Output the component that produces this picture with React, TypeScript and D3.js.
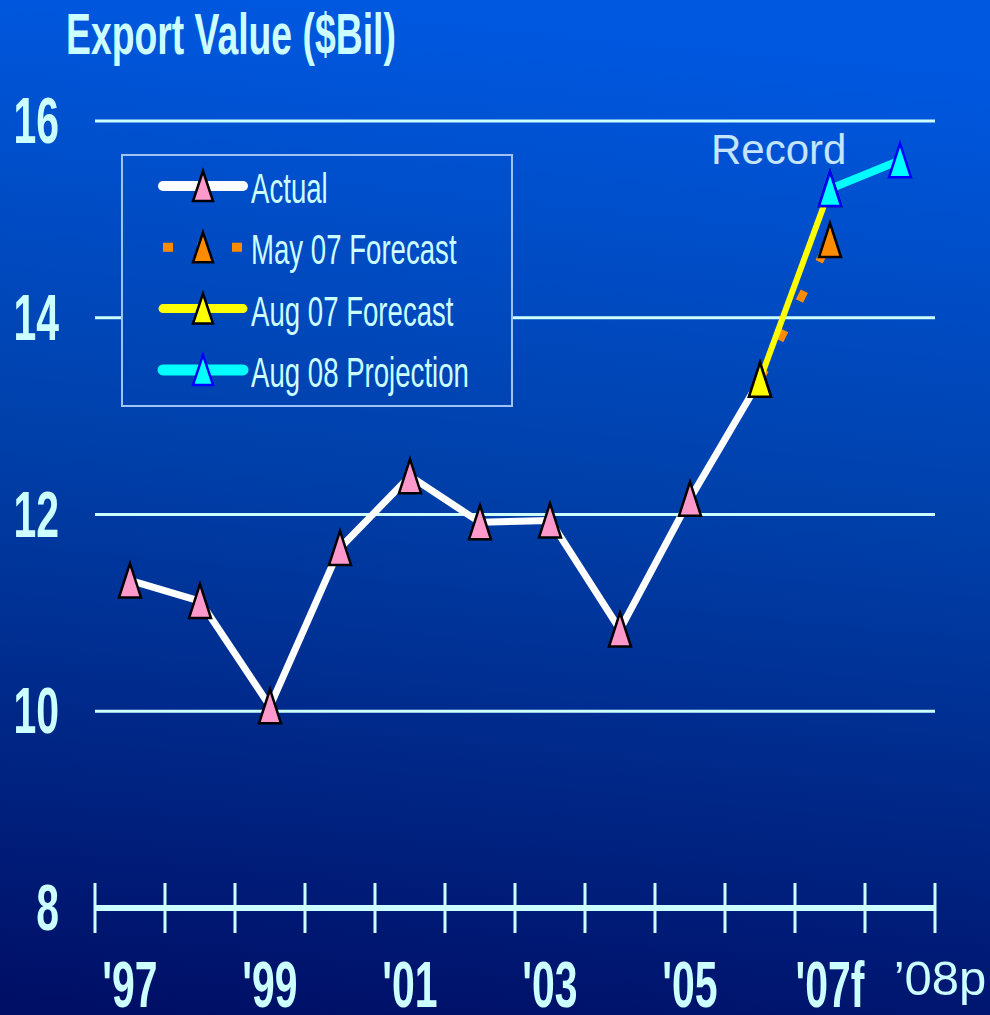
import React from 'react';
import * as d3 from 'd3';

// years on the x axis (one band each)
const years = ['97', '98', '99', '00', '01', '02', '03', '04', '05', '06', '07', '08'];
const xLabels = ["'97", '', "'99", '', "'01", '', "'03", '', "'05", '', "'07f", ''];
const yTicks = [8, 10, 12, 14, 16];

// Export value, $Bil
const actual: [string, number][] = [
    ['97', 11.33], ['98', 11.12], ['99', 10.05], ['00', 11.66], ['01', 12.39],
    ['02', 11.92], ['03', 11.94], ['04', 10.83], ['05', 12.16], ['06', 13.37],
];
const may07: [string, number][] = [['06', 13.37], ['07', 14.79]];
const aug07: [string, number][] = [['06', 13.37], ['07', 15.31]];
const aug08: [string, number][] = [['07', 15.31], ['08', 15.6]];

const legendLabels = ['Actual', 'May 07 Forecast', 'Aug 07 Forecast', 'Aug 08 Projection'];

const W = 990;
const H = 1015;
const TXT = '#ccffff';
const SQUEEZE = 0.63; // the original font is very condensed

const tri = (w: number, h: number) => `M0,${-h / 2}L${w / 2},${h / 2}L${-w / 2},${h / 2}Z`;

const App: React.FC = () => {
    const x = d3.scaleBand<string>().domain(years).range([95, 935]);
    const y = d3.scaleLinear().domain([8, 16]).range([908, 121]);
    const cx = (k: string) => (x(k) as number) + x.bandwidth() / 2;

    const line = d3
        .line<[string, number]>()
        .x((d) => cx(d[0]))
        .y((d) => y(d[1]));

    const series = [
        { data: actual, color: '#ffffff', width: 7, dash: undefined as string | undefined, fill: '#ff99cc', edge: '#000000' },
        { data: may07, color: '#ff8c00', width: 8, dash: '11 33', fill: '#ff8c00', edge: '#000000' },
        { data: aug07, color: '#ffff00', width: 6, dash: undefined, fill: '#ffff00', edge: '#000000' },
        { data: aug08, color: '#00ffff', width: 8, dash: undefined, fill: '#00ffff', edge: '#0000ff' },
    ];

    const ticksX = years.map((k) => x(k) as number).concat([935]);
    const marker = tri(22, 34);

    return (
        <svg width={W} height={H} style={{ position: 'absolute', left: 0, top: 0 }} fontFamily="'Liberation Sans', Arial, sans-serif">
            <defs>
                <linearGradient id="bg" gradientUnits="userSpaceOnUse" x1={300} y1={0} x2={200} y2={H}>
                    <stop offset="0" stopColor="#0058e0" />
                    <stop offset="0.45" stopColor="#0040aa" />
                    <stop offset="1" stopColor="#000f66" />
                </linearGradient>
            </defs>
            <rect width={W} height={H} fill="url(#bg)" />

            {/* title */}
            <text transform={`translate(66,54) scale(${SQUEEZE + 0.025},1)`} fontSize={57} fontWeight="bold" fill={TXT}>
                Export Value ($Bil)
            </text>

            {/* grid */}
            {yTicks.filter((t) => t > 8).map((t) => (
                <line key={t} x1={95} x2={935} y1={y(t)} y2={y(t)} stroke={TXT} strokeWidth={3} />
            ))}

            {/* y labels */}
            {yTicks.map((t) => (
                <text key={t} transform={`translate(59,${y(t) + 22}) scale(${SQUEEZE},1)`} fontSize={65}
                    fontWeight="bold" fill={TXT} textAnchor="end">
                    {t}
                </text>
            ))}

            {/* x axis */}
            <line x1={95} x2={935} y1={y(8)} y2={y(8)} stroke={TXT} strokeWidth={6} />
            {ticksX.map((t, i) => (
                <line key={i} x1={t} x2={t} y1={y(8) - 25} y2={y(8) + 25} stroke={TXT} strokeWidth={3} />
            ))}
            {xLabels.map((l, i) => l && (
                <text key={i} transform={`translate(${cx(years[i])},1007) scale(${SQUEEZE},1)`} fontSize={65}
                    fontWeight="bold" fill={TXT} textAnchor="middle">
                    {l}
                </text>
            ))}
            <text x={cx('08') + 40} y={995} fontSize={49} fill={TXT} textAnchor="middle">’08p</text>

            {/* legend */}
            <rect x={122} y={155} width={390} height={251} fill="url(#bg)" stroke="#9ec4f5" strokeWidth={2} />
            {series.map((s, i) => {
                const ly = 186 + i * 61.3;
                return (
                    <g key={i}>
                        <line x1={163} x2={243} y1={ly} y2={ly} stroke={s.color} strokeWidth={s.dash ? 9 : s.width + 3}
                            strokeDasharray={s.dash ? '10 24.5' : undefined} strokeLinecap={s.dash ? 'butt' : 'round'} />
                        <path d={tri(20, 30)} transform={`translate(203,${ly})`} fill={s.fill} stroke={s.edge} strokeWidth={2.5} />
                        <text transform={`translate(251,${ly + 17}) scale(0.642,1)`} fontSize={43} fill={TXT}>
                            {legendLabels[i]}
                        </text>
                    </g>
                );
            })}

            {/* lines */}
            {series.map((s, i) => (
                <path key={i} d={line(s.data) as string} fill="none" stroke={s.color} strokeWidth={s.width}
                    strokeDasharray={s.dash} strokeLinejoin="round" />
            ))}

            {/* markers */}
            {series.map((s, i) =>
                s.data
                    .filter((d) => !(i === 1 && d[0] === '06'))
                    .map((d, j) => (
                        <path key={`${i}-${j}`} d={marker} transform={`translate(${cx(d[0])},${y(d[1])})`}
                            fill={s.fill} stroke={s.edge} strokeWidth={2.5} />
                    ))
            )}

            <text x={711} y={164} fontSize={42} fill="#c4e4ff">Record</text>
        </svg>
    );
};

export default App;
